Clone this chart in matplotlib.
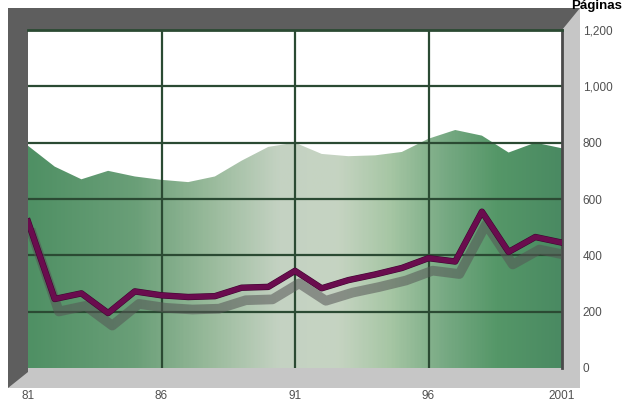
import numpy as np
import matplotlib
matplotlib.use('Agg')
import matplotlib.pyplot as plt
import matplotlib.patheffects as pe
from matplotlib.colors import LinearSegmentedColormap
from matplotlib.patches import Rectangle, Polygon

# Datos
anios = list(range(1981, 2002))
area_sup = [789, 715, 670, 700, 680, 668, 660, 680, 736, 785, 800,
            760, 752, 755, 767, 814, 845, 825, 765, 800, 780]
linea = [520, 245, 265, 195, 272, 258, 252, 255, 285, 288, 345,
         283, 312, 332, 355, 390, 378, 555, 412, 465, 445]
xticks = [1981, 1986, 1991, 1996, 2001]
xlabels = ['81', '86', '91', '96', '2001']
yticks = [0, 200, 400, 600, 800, 1000, 1200]
ylabels = ['0', '200', '400', '600', '800', '1,000', '1,200']

W, H = 625, 405
fig = plt.figure(figsize=(W / 100, H / 100), dpi=100)
fig.patch.set_facecolor('white')

# Marco gris alrededor del area del grafico
fig.patches.append(Rectangle((8 / W, 1 - 388 / H), 572 / W, 380 / H,
                             transform=fig.transFigure, facecolor='#c6c6c6',
                             edgecolor='none', zorder=0))
fig.patches.append(Polygon([(8 / W, 1 - 388 / H), (8 / W, 1 - 8 / H), (580 / W, 1 - 8 / H),
                            (562 / W, 1 - 30 / H), (28 / W, 1 - 30 / H), (28 / W, 1 - 372 / H)],
                           closed=True, transform=fig.transFigure, facecolor='#5e5e5e',
                           edgecolor='none', zorder=0))

ax = fig.add_axes([28 / W, 1 - 368 / H, 534 / W, 338 / H])
ax.set_zorder(2)
ax.set_facecolor('white')
ax.set_xlim(1981, 2001)
ax.set_ylim(0, 1200)

# Area verde con degradado
cmap = LinearSegmentedColormap.from_list('verde', [
    (0.0, '#4f9064'), (0.2, '#6a9f78'), (0.35, '#9cbc9e'), (0.47, '#c4d2c2'),
    (0.58, '#c6d4c2'), (0.68, '#a6c6a4'), (0.78, '#78aa84'), (0.88, '#559768'),
    (1.0, '#4a8a62')])
grad = np.linspace(0, 1, 400).reshape(1, -1)
relleno = ax.fill_between(anios, 0, area_sup, facecolor='none', edgecolor='none')
img = ax.imshow(grad, extent=[1981, 2001, 0, 1200], aspect='auto', cmap=cmap,
                origin='lower', zorder=1)
img.set_clip_path(relleno.get_paths()[0], transform=ax.transData)

# Rejilla
for yv in yticks[1:-1]:
    ax.axhline(yv, color='#2b4a33', lw=1.6, zorder=2)
for xv in xticks[1:-1]:
    ax.axvline(xv, color='#2b4a33', lw=1.6, zorder=2)

# Linea purpura con sombra
ax.plot(anios, linea, color='#6a0c4e', lw=3.8, zorder=4, solid_joinstyle='round',
        path_effects=[pe.SimpleLineShadow(offset=(3, -9), shadow_color='#555555',
                                          alpha=0.55, linewidth=7),
                      pe.Stroke(linewidth=4.6, foreground='#3e0630'),
                      pe.Normal()])

for s in ax.spines.values():
    s.set_visible(False)
ax.spines['top'].set_visible(True)
ax.spines['top'].set_color('#2b4a33')
ax.spines['top'].set_linewidth(2)
ax.spines['right'].set_visible(True)
ax.spines['right'].set_color('#4a4a4a')
ax.spines['right'].set_linewidth(2)

ax.yaxis.tick_right()
ax.set_yticks(yticks)
ax.set_yticklabels(ylabels)
ax.set_xticks(xticks)
ax.set_xticklabels(xlabels)
ax.tick_params(axis='y', length=0, pad=15, labelsize=8.5, labelcolor='#505050')
ax.tick_params(axis='x', length=0, pad=16, labelsize=8.5, labelcolor='#505050')
for t in ax.get_yticklabels() + ax.get_xticklabels():
    t.set_fontfamily('Liberation Sans')

fig.text(0.995, 1.0, 'Páginas', ha='right', va='top', fontsize=9.5,
         fontweight='bold', color='black', fontfamily='Liberation Sans')

fig.savefig('out.png', dpi=100)
